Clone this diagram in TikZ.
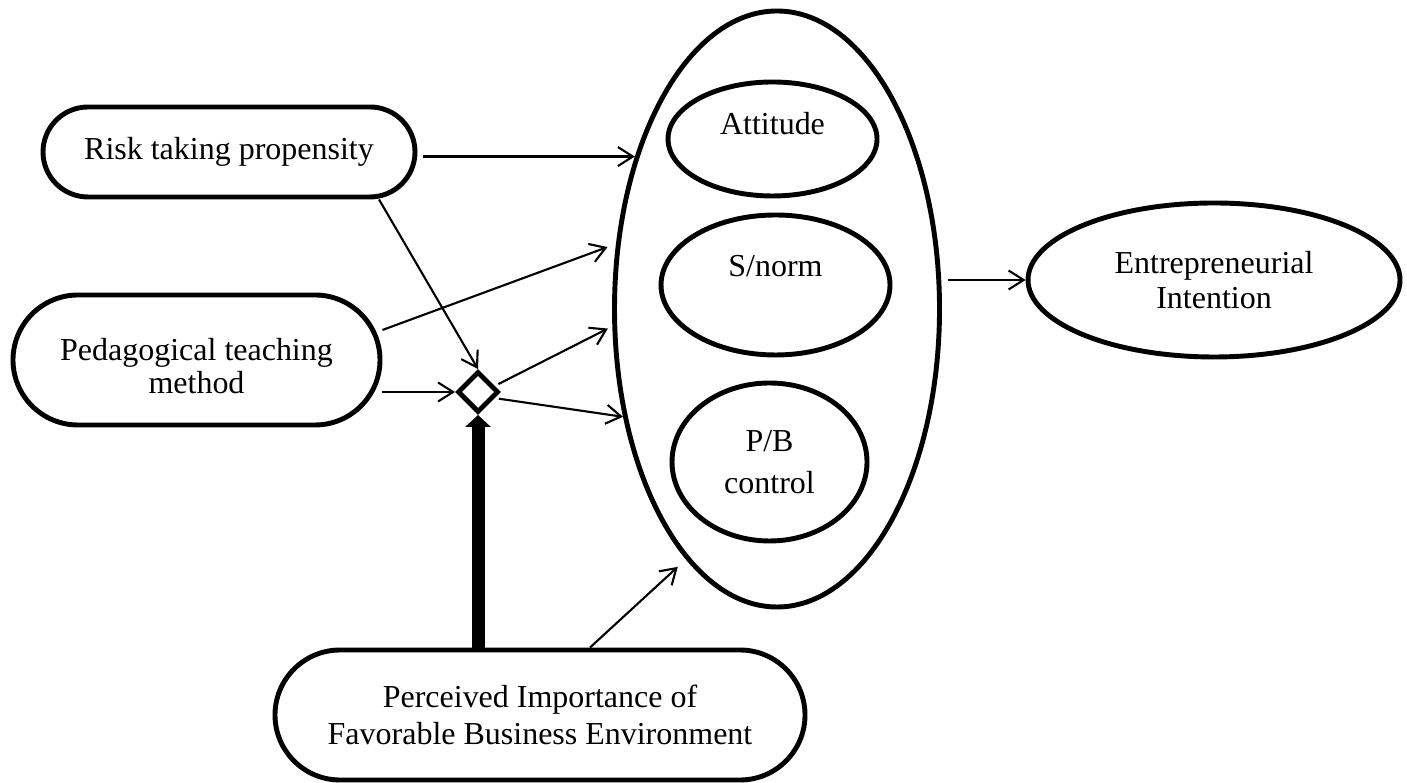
\documentclass[tikz,border=0pt]{standalone}
\usepackage{fontspec}
\setmainfont{Liberation Serif}
\usetikzlibrary{shapes.geometric,arrows.meta}

\begin{document}
\begin{tikzpicture}[
    font=\fontsize{9.1}{10.5}\selectfont,
    pill/.style={draw, line width=1.4pt, rounded corners=#1, align=center, inner sep=0pt},
    oval/.style={draw, ellipse, line width=1.4pt, align=center, inner sep=0pt},
    txt/.style={align=center, inner sep=0pt},
    arr/.style={-{Straight Barb[length=0.15cm,width=0.19cm]}, line width=0.6pt},
    moder/.style={-{Triangle[length=0.12cm,width=0.25cm]}, line width=0.13cm}
]

    % marco
    \useasboundingbox (0,0) rectangle (14.07,7.83);

    % modelo TPB
    \node[oval, minimum width=3.25cm, minimum height=5.96cm] (tpb) at (7.77,4.74) {};
    \node[oval, minimum width=2.09cm, minimum height=1.14cm] (att) at (7.725,6.44) {};
    \node[txt] (attT) at (7.725,6.59) {Attitude};
    \node[oval, minimum width=2.29cm, minimum height=1.40cm] (snorm) at (7.755,4.98) {};
    \node[txt] (snormT) at (7.755,5.17) {S/norm};
    \node[oval, minimum width=1.95cm, minimum height=1.58cm,
        font=\fontsize{9.1}{12}\selectfont] (pbc) at (7.695,3.21) {P/B\\control};

    % intencion
    \node[oval, minimum width=3.72cm, minimum height=1.54cm,
        font=\fontsize{9.1}{10}\selectfont] (ent) at (12.14,5.03) {Entrepreneurial\\Intention};

    % antecedentes
    \node[pill=0.45cm, minimum width=3.72cm, minimum height=0.90cm] (risk) at (2.29,6.31) {Risk taking propensity};
    \node[pill=0.65cm, minimum width=3.67cm, minimum height=1.30cm] (ped) at (1.965,4.23) {};
    \node[txt, font=\fontsize{9.1}{9.6}\selectfont] (pedT) at (1.965,4.17) {Pedagogical teaching\\method};
    \node[pill=0.65cm, minimum width=5.30cm, minimum height=1.30cm,
        font=\fontsize{9.1}{10.4}\selectfont] (perc) at (5.40,0.68) {Perceived Importance of\\Favorable Business Environment};

    % moderador
    \node[draw, diamond, line width=1.4pt, minimum size=0.41cm, inner sep=0pt] (dmd) at (4.78,3.91) {};
    \draw[moder] (dmd.south |- perc.north) -- (dmd.south);

    % flechas
    \draw[arr, shorten <=0.06cm] (risk.east |- tpb.133) -- (tpb.133);
    \draw[arr] ([xshift=1.5cm]risk.south) -- (dmd.north);
    \draw[arr, shorten >=0.09cm] ([yshift=0.3cm]ped.east) -- (tpb.158);
    \draw[arr] (ped.east |- dmd.west) -- (dmd.west);
    \draw[arr, shorten <=0.04cm, shorten >=0.05cm] (dmd.20) -- (tpb.186);
    \draw[arr, shorten <=0.04cm] (dmd.-20) -- (tpb.215);
    \draw[arr, shorten >=0.11cm] ([xshift=0.5cm]perc.north) -- (tpb.250);
    \draw[arr, shorten <=0.06cm] (tpb.east |- ent.west) -- (ent.west);

\end{tikzpicture}
\end{document}
